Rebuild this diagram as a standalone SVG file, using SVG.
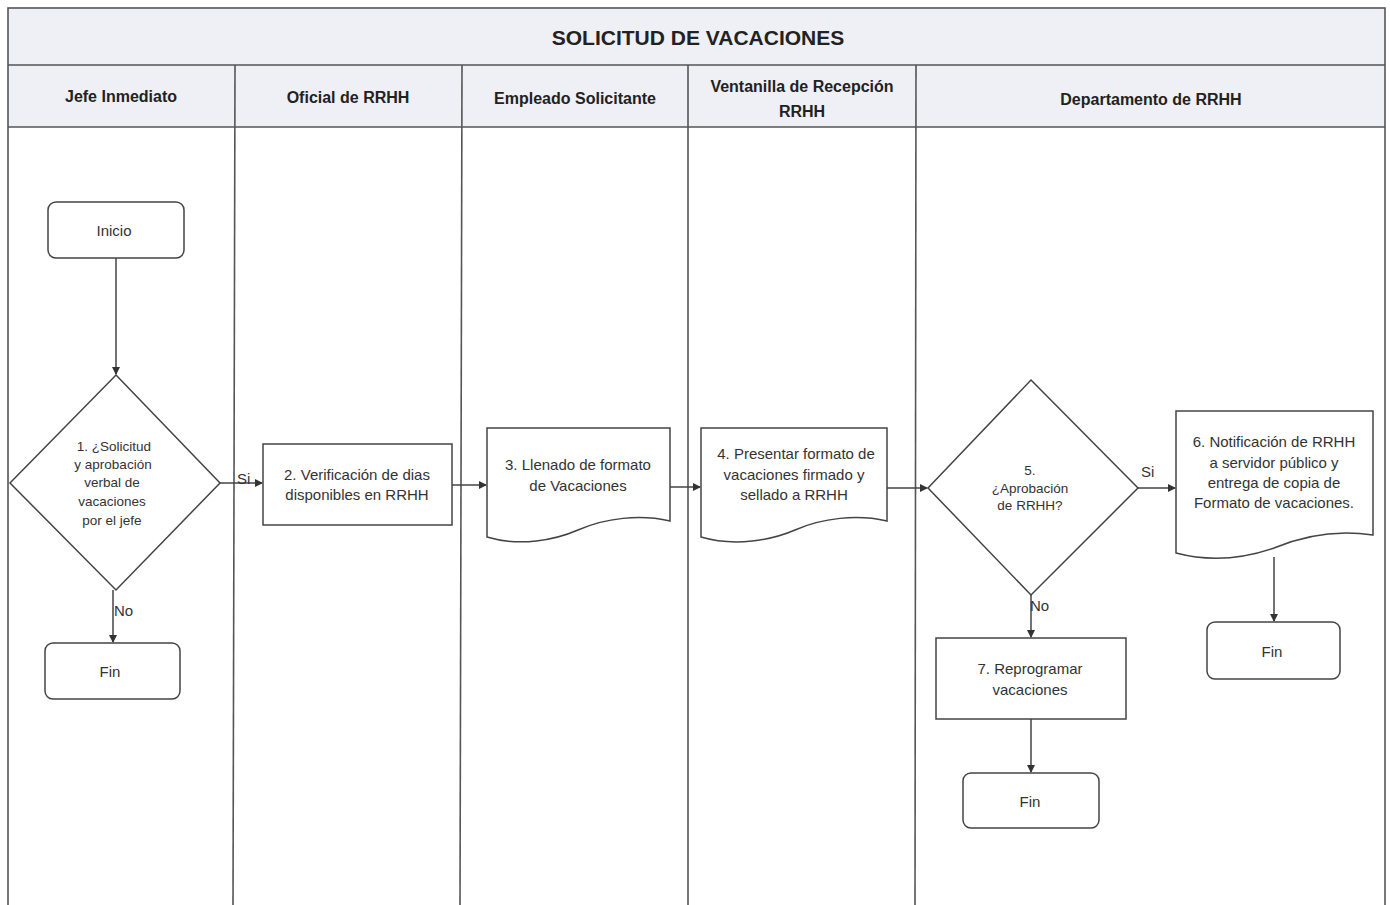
<svg xmlns="http://www.w3.org/2000/svg" width="1390" height="905" viewBox="0 0 1390 905">
<style>
.frame{fill:none;stroke:#555;stroke-width:1.6}
.hdr{fill:#eef0f5}
.lane{stroke:#555;stroke-width:1.6}
.shape{fill:#fff;stroke:#444;stroke-width:1.5}
.conn{fill:none;stroke:#444;stroke-width:1.5;marker-end:url(#arr)}
.t{font-family:"Liberation Sans",Arial,sans-serif;font-size:15px;fill:#333;text-anchor:middle}
.ts{font-family:"Liberation Sans",Arial,sans-serif;font-size:13.5px;fill:#333;text-anchor:middle}
.h{font-family:"Liberation Sans",Arial,sans-serif;font-size:16px;font-weight:bold;fill:#222;text-anchor:middle}
.title{font-family:"Liberation Sans",Arial,sans-serif;font-size:21px;font-weight:bold;fill:#222;text-anchor:middle}
.lbl{font-family:"Liberation Sans",Arial,sans-serif;font-size:15px;fill:#333}
</style>
<defs>
<marker id="arr" markerWidth="8" markerHeight="8" refX="7" refY="4" orient="auto" markerUnits="userSpaceOnUse">
<path d="M0,0 L8,4 L0,8 Z" fill="#333"/>
</marker>
</defs>
<rect x="0" y="0" width="1390" height="905" fill="#fff"/>
<g id="swimlanes">
<rect class="hdr" x="8" y="8" width="1377" height="119"/>
<rect class="frame" x="8" y="8" width="1377" height="905"/>
<line class="lane" x1="8" y1="65" x2="1385" y2="65"/>
<line class="lane" x1="8" y1="127" x2="1385" y2="127"/>
<line class="lane" x1="235" y1="65" x2="233" y2="905"/>
<line class="lane" x1="462" y1="65" x2="460" y2="905"/>
<line class="lane" x1="688" y1="65" x2="688" y2="905"/>
<line class="lane" x1="916" y1="65" x2="915" y2="905"/>
<text class="title" x="698" y="45">SOLICITUD DE VACACIONES</text>
<text class="h" x="121" y="102">Jefe Inmediato</text>
<text class="h" x="348" y="103">Oficial de RRHH</text>
<text class="h" x="575" y="104">Empleado Solicitante</text>
<text class="h" x="802" y="92">Ventanilla de Recepción</text>
<text class="h" x="802" y="117">RRHH</text>
<text class="h" x="1151" y="105">Departamento de RRHH</text>
</g>
<g id="connectors">
<line class="conn" x1="116" y1="258" x2="116" y2="374"/>
<line class="conn" x1="220" y1="483" x2="262" y2="483"/>
<line class="conn" x1="113" y1="590" x2="113" y2="642"/>
<line class="conn" x1="452" y1="485" x2="486" y2="485"/>
<line class="conn" x1="670" y1="487" x2="700" y2="487"/>
<line class="conn" x1="887" y1="488" x2="927" y2="488"/>
<line class="conn" x1="1138" y1="488" x2="1175" y2="488"/>
<line class="conn" x1="1031" y1="595" x2="1031" y2="637"/>
<line class="conn" x1="1274" y1="557" x2="1274" y2="621"/>
<line class="conn" x1="1031" y1="719" x2="1031" y2="772"/>
<text class="lbl" x="237" y="484">Si</text>
<text class="lbl" x="114" y="616">No</text>
<text class="lbl" x="1141" y="477">Si</text>
<text class="lbl" x="1030" y="611">No</text>
</g>
<g id="inicio">
<rect class="shape" x="48" y="202" width="136" height="56" rx="8"/>
<text class="t" x="114" y="236">Inicio</text>
</g>
<g id="decision1">
<polygon class="shape" points="116,375 220,483 116,590 10,483"/>
<text class="ts" x="114" y="451">1. ¿Solicitud</text>
<text class="ts" x="113" y="469">y aprobación</text>
<text class="ts" x="112" y="487">verbal  de</text>
<text class="ts" x="112" y="506">vacaciones</text>
<text class="ts" x="112" y="525">por el jefe</text>
</g>
<g id="fin1">
<rect class="shape" x="45" y="643" width="135" height="56" rx="8"/>
<text class="t" x="110" y="677">Fin</text>
</g>
<g id="step2">
<rect class="shape" x="263" y="444" width="189" height="81"/>
<text class="t" x="357" y="480">2. Verificación de dias</text>
<text class="t" x="357" y="500">disponibles en RRHH</text>
</g>
<g id="step3">
<path class="shape" d="M487,428 H670 V521 C640,514 605,518 578,530 C555,540 520,547 487,537 Z"/>
<text class="t" x="578" y="470">3. Llenado de formato</text>
<text class="t" x="578" y="491">de Vacaciones</text>
</g>
<g id="step4">
<path class="shape" d="M701,428 H887 V521 C857,514 822,518 795,530 C772,540 735,547 701,537 Z"/>
<text class="t" x="796" y="459">4. Presentar formato de</text>
<text class="t" x="794" y="480">vacaciones firmado y</text>
<text class="t" x="794" y="500">sellado a RRHH</text>
</g>
<g id="decision5">
<polygon class="shape" points="1031,380 1138,488 1031,595 928,488"/>
<text class="ts" x="1030" y="475">5.</text>
<text class="ts" x="1030" y="493">¿Aprobación</text>
<text class="ts" x="1030" y="510">de RRHH?</text>
</g>
<g id="step6">
<path class="shape" d="M1176,411 H1373 V535 C1340,530 1305,535 1274,548 C1245,558 1210,562 1176,553 Z"/>
<text class="t" x="1274" y="447">6. Notificación de RRHH</text>
<text class="t" x="1274" y="468">a servidor público y</text>
<text class="t" x="1274" y="488">entrega de copia de</text>
<text class="t" x="1274" y="508">Formato de vacaciones.</text>
</g>
<g id="fin6">
<rect class="shape" x="1207" y="622" width="133" height="57" rx="8"/>
<text class="t" x="1272" y="657">Fin</text>
</g>
<g id="step7">
<rect class="shape" x="936" y="638" width="190" height="81"/>
<text class="t" x="1030" y="674">7. Reprogramar</text>
<text class="t" x="1030" y="695">vacaciones</text>
</g>
<g id="fin7">
<rect class="shape" x="963" y="773" width="136" height="55" rx="8"/>
<text class="t" x="1030" y="807">Fin</text>
</g>
</svg>
